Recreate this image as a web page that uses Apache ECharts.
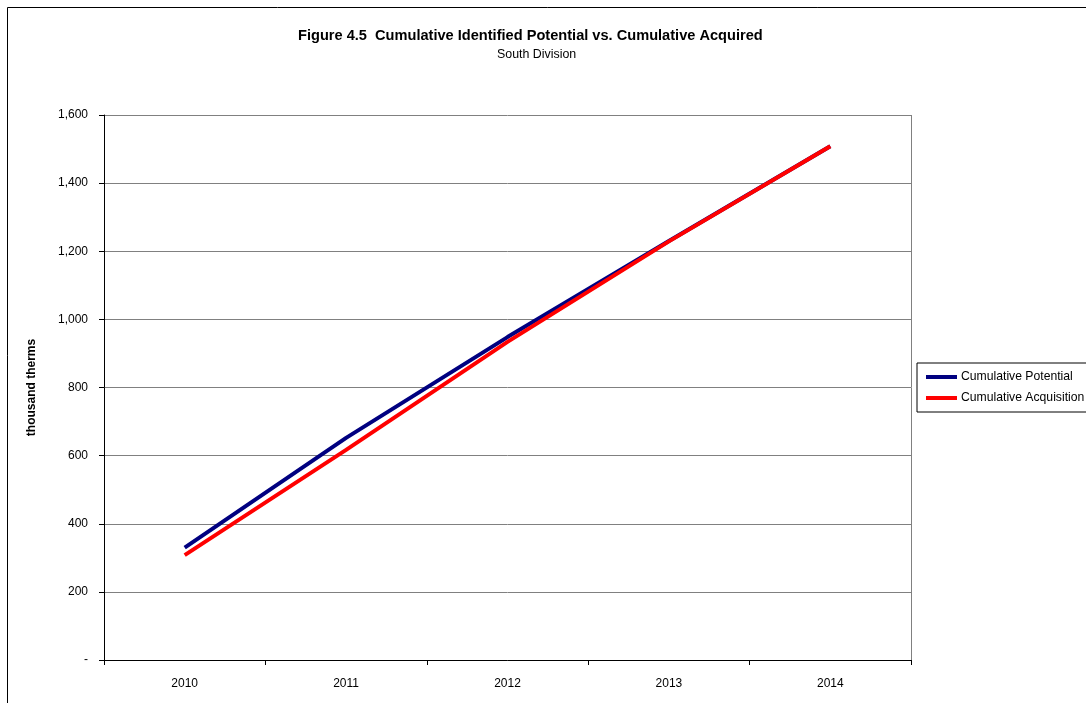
<!DOCTYPE html>
<html>
<head>
<meta charset="utf-8">
<script src="https://cdn.jsdelivr.net/npm/echarts@6/dist/echarts.min.js"></script>
<style>
html,body{margin:0;padding:0;background:#fff;}
#chart{width:1086px;height:703px;}
</style>
</head>
<body>
<div id="chart"></div>
<script>
var categories = ['2010', '2011', '2012', '2013', '2014'];
var potential = [330, 652, 948, 1230, 1508];
var acquisition = [308, 617, 934, 1229, 1508];
var seriesNames = ['Cumulative Potential', 'Cumulative Acquisition'];
var titleText = 'Figure 4.5  Cumulative Identified Potential vs. Cumulative Acquired';
var subtitleText = 'South Division';
var yAxisName = 'thousand therms';

var font = 'Liberation Sans, Arial, sans-serif';
var chart = echarts.init(document.getElementById('chart'), null, {renderer: 'canvas'});
chart.setOption({
  backgroundColor: '#fff',
  animation: false,
  title: [{
    text: titleText,
    left: 298,
    top: 28,
    padding: 0,
    textStyle: {fontFamily: font, fontSize: 14.6, fontWeight: 'bold', color: '#000'}
  }, {
    text: subtitleText,
    left: 497,
    top: 49,
    padding: 0,
    textStyle: {fontFamily: font, fontSize: 12.4, fontWeight: 'normal', color: '#000'}
  }],
  graphic: [{
    type: 'rect', shape: {x: 7.5, y: 7.5, width: 1090, height: 710},
    style: {fill: 'none', stroke: '#000', lineWidth: 1}, silent: true
  }, {
    type: 'line', shape: {x1: 911.5, y1: 115, x2: 911.5, y2: 660},
    style: {stroke: '#808080', lineWidth: 1}, silent: true
  }],
  legend: {
    orient: 'vertical',
    left: 917,
    top: 363,
    padding: [8, 30, 8, 9],
    itemGap: 9,
    itemWidth: 31,
    itemHeight: 4,
    icon: 'rect',
    borderColor: '#000',
    borderWidth: 1,
    textStyle: {fontFamily: font, fontSize: 12.2, color: '#000', padding: [0, 0, 0, -1]},
    data: seriesNames
  },
  grid: {left: 104, right: 175, top: 115, bottom: 43},
  xAxis: {
    type: 'category',
    data: categories,
    boundaryGap: true,
    axisLine: {lineStyle: {color: '#000', width: 1}},
    axisTick: {show: true, length: 5, lineStyle: {color: '#000'}},
    axisLabel: {fontFamily: font, fontSize: 12, color: '#000', margin: 18},
    splitLine: {show: false}
  },
  yAxis: {
    type: 'value',
    min: 0, max: 1600, interval: 200,
    name: yAxisName,
    nameLocation: 'middle',
    nameGap: 66,
    nameTextStyle: {fontFamily: font, fontSize: 12, fontWeight: 'bold', color: '#000'},
    axisLine: {show: true, lineStyle: {color: '#000', width: 1}},
    axisTick: {show: true, length: 5, lineStyle: {color: '#000'}},
    axisLabel: {
      fontFamily: font, fontSize: 12, color: '#000', margin: 16,
      formatter: function (v) { return v === 0 ? '-' : v.toLocaleString('en-US'); }
    },
    splitLine: {show: true, lineStyle: {color: '#808080', width: 1}}
  },
  series: [{
    name: seriesNames[0], type: 'line', data: potential,
    symbol: 'none', color: '#000080',
    lineStyle: {color: '#000080', width: 4}
  }, {
    name: seriesNames[1], type: 'line', data: acquisition,
    symbol: 'none', color: '#FF0000',
    lineStyle: {color: '#FF0000', width: 4}
  }]
});
</script>
</body>
</html>
